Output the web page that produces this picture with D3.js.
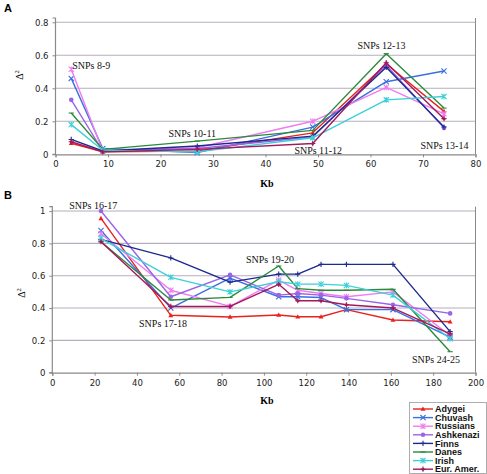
<!DOCTYPE html>
<html><head><meta charset="utf-8">
<script src="https://cdn.jsdelivr.net/npm/d3@7/dist/d3.min.js"></script>
<style>body{margin:0;background:#fff}svg{display:block}</style>
</head><body>
<script>
const populations = ["Adygei","Chuvash","Russians","Ashkenazi","Finns","Danes","Irish","Eur. Amer."];
const colors = ["#E8231E","#3A6FE0","#F07CF0","#9A63E8","#1C2A8C","#2A8A3A","#3CD0D8","#A3195B"];
const markers = ["triangle","x","asterisk","circle","plus","dash","asterisk","plusdot"];

const kbA = [3, 9, 27, 49, 63, 74];
const valuesA = [
  [0.067, 0.015, 0.02, 0.13, 0.547, 0.26],
  [0.46, 0.035, 0.01, 0.165, 0.44, 0.505],
  [0.515, 0.02, 0.04, 0.2, 0.405, 0.245],
  [0.33, 0.02, 0.035, 0.105, 0.54, 0.16],
  [0.09, 0.02, 0.05, 0.11, 0.527, 0.165],
  [0.25, 0.03, 0.08, 0.145, 0.61, 0.28],
  [0.18, 0.025, 0.015, 0.1, 0.33, 0.35],
  [0.076, 0.015, 0.03, 0.065, 0.555, 0.216]
];
const kbB = [23, 56, 84, 107, 116, 127, 139, 161, 188];
const valuesB = [
  [0.955, 0.355, 0.345, 0.357, 0.346, 0.346, 0.39, 0.326, 0.315],
  [0.88, 0.40, 0.585, 0.47, 0.47, 0.465, 0.39, 0.39, 0.22],
  [0.86, 0.51, 0.41, 0.573, 0.51, 0.49, 0.47, 0.50, 0.23],
  [1.0, 0.47, 0.605, 0.48, 0.49, 0.48, 0.46, 0.42, 0.367],
  [0.825, 0.71, 0.56, 0.61, 0.61, 0.67, 0.67, 0.67, 0.254],
  [0.81, 0.45, 0.466, 0.66, 0.52, 0.51, 0.51, 0.516, 0.13],
  [0.83, 0.59, 0.50, 0.563, 0.548, 0.548, 0.54, 0.48, 0.21],
  [0.81, 0.41, 0.41, 0.547, 0.445, 0.445, 0.42, 0.40, 0.24]
];
const xTicksA = [0,10,20,30,40,50,60,70,80];
const yTicksA = [0,0.2,0.4,0.6,0.8];
const xTicksB = [0,20,40,60,80,100,120,140,160,180,200];
const yTicksB = [0,0.2,0.4,0.6,0.8,1];
const labelsA = [
  {t:"SNPs 8-9", kb:3, v:0.515, dx:1, dy:0},
  {t:"SNPs 10-11", kb:21.5, v:0.05, dx:0, dy:-9},
  {t:"SNPs 11-12", kb:45.5, v:0.0, dx:0, dy:0},
  {t:"SNPs 12-13", kb:57.5, v:0.61, dx:0, dy:-5},
  {t:"SNPs 13-14", kb:69.5, v:0.03, dx:0, dy:0}
];
const labelsB = [
  {t:"SNPs 16-17", kb:8, v:1.0, dx:0, dy:-2},
  {t:"SNPs 17-18", kb:41, v:0.28, dx:0, dy:0},
  {t:"SNPs 19-20", kb:91.5, v:0.68, dx:0, dy:0},
  {t:"SNPs 24-25", kb:170, v:0.06, dx:0, dy:0}
];

const W = 487, H = 474;
const svg = d3.select("body").append("svg").attr("width", W).attr("height", H);
svg.append("rect").attr("width", W).attr("height", H).attr("fill", "#fff");

const gridColor = "#B5AEBD";
const axisColor = "#8a8a8a";
const tickFont = "DejaVu Sans, Verdana, sans-serif";
const serif = "Liberation Serif, Times New Roman, serif";

function markerPath(type, s) {
  switch (type) {
    case "triangle": return `M0,${-s}L${s*0.95},${s*0.7}L${-s*0.95},${s*0.7}Z`;
    case "x": return `M${-s},${-s}L${s},${s}M${-s},${s}L${s},${-s}`;
    case "asterisk": return `M${-s},${-s}L${s},${s}M${-s},${s}L${s},${-s}M0,${-s*1.1}L0,${s*1.1}`;
    case "plus": return `M0,${-s}L0,${s}M${-s},0L${s},0`;
    case "plusdot": return `M0,${-s}L0,${s}M${-s},0L${s},0`;
    case "dash": return `M${-s},0L${s},0`;
  }
  return "";
}

function panel(cfg) {
  const x = d3.scaleLinear().domain(cfg.xDomain).range([cfg.left, cfg.right]);
  const y = d3.scaleLinear().domain([0, cfg.yMax]).range([cfg.bottom, cfg.top]);
  const g = svg.append("g");

  g.selectAll(".grid").data(cfg.yTicks.filter(d => d > 0)).enter().append("line")
    .attr("x1", cfg.left).attr("x2", cfg.right)
    .attr("y1", d => y(d)).attr("y2", d => y(d))
    .attr("stroke", gridColor).attr("stroke-width", 1.1);

  g.append("line").attr("x1", cfg.right).attr("x2", cfg.right)
    .attr("y1", y(cfg.yMax)).attr("y2", cfg.bottom)
    .attr("stroke", axisColor).attr("stroke-width", 1);

  const xAxis = d3.axisBottom(x).tickValues(cfg.xTicks).tickSize(3).tickPadding(4).tickFormat(d3.format("d"));
  const yAxis = d3.axisLeft(y).tickValues(cfg.yTicks).tickSize(3).tickPadding(4).tickFormat(d => d === 0 ? "0" : (d === 1 ? "1" : d3.format(".1f")(d)));
  const gx = g.append("g").attr("transform", `translate(0,${cfg.bottom})`).call(xAxis);
  const gy = g.append("g").attr("transform", `translate(${cfg.left},0)`).call(yAxis);
  [gx, gy].forEach(a => {
    a.select(".domain").attr("stroke", axisColor).attr("stroke-width", 1.2);
    a.selectAll(".tick line").attr("stroke", axisColor);
    a.selectAll("text").attr("font-family", tickFont).attr("font-size", 8.5).attr("fill", "#222");
  });
  gy.select(".domain").attr("d", `M-3,${y(cfg.yMax)}H0V${cfg.bottom}H-3`);

  const line = d3.line().x(d => x(d[0])).y(d => y(d[1]));
  cfg.values.forEach((vals, i) => {
    const pts = cfg.kb.map((k, j) => [k, vals[j]]);
    const sg = g.append("g");
    sg.append("path").datum(pts).attr("d", line).attr("fill", "none")
      .attr("stroke", colors[i]).attr("stroke-width", 1.4).attr("stroke-linejoin", "round");
    pts.forEach(p => {
      const m = markers[i];
      const cx = x(p[0]), cy = y(p[1]);
      if (m === "circle") {
        sg.append("circle").attr("cx", cx).attr("cy", cy).attr("r", 2.3).attr("fill", colors[i]);
      } else if (m === "triangle") {
        sg.append("path").attr("d", markerPath(m, 2.6)).attr("transform", `translate(${cx},${cy})`).attr("fill", colors[i]);
      } else {
        sg.append("path").attr("d", markerPath(m, 2.6)).attr("transform", `translate(${cx},${cy})`)
          .attr("fill", "none").attr("stroke", colors[i]).attr("stroke-width", 1.1);
        if (m === "plusdot") sg.append("circle").attr("cx", cx).attr("cy", cy).attr("r", 1.5).attr("fill", colors[i]);
      }
    });
  });

  cfg.labels.forEach(l => {
    g.append("text").attr("x", x(l.kb) + l.dx).attr("y", y(l.v) + l.dy)
      .attr("font-family", serif).attr("font-size", 10).attr("fill", "#111").text(l.t);
  });

  svg.append("text").attr("x", 4).attr("y", cfg.letterY).attr("font-family", "Liberation Sans, Arial, sans-serif")
    .attr("font-weight", "bold").attr("font-size", 11).text(cfg.letter);

  const yl = svg.append("text").attr("transform", `translate(${cfg.ylx},${cfg.yly}) rotate(-90)`)
    .attr("text-anchor", "middle").attr("font-family", serif).attr("font-size", 10);
  yl.append("tspan").text("Δ");
  yl.append("tspan").attr("font-size", 6.5).attr("dy", -4).text("2");

  svg.append("text").attr("x", cfg.kbx).attr("y", cfg.kby).attr("font-family", serif)
    .attr("font-weight", "bold").attr("font-size", 10).attr("text-anchor", "middle").text("Kb");
}

panel({
  letter: "A", letterY: 12,
  xDomain: [0, 80], yMax: 0.826, left: 55.5, right: 475.5, top: 18, bottom: 154.3,
  xTicks: xTicksA, yTicks: yTicksA, kb: kbA, values: valuesA, labels: labelsA,
  ylx: 23, yly: 75, kbx: 267, kby: 187
});
panel({
  letter: "B", letterY: 199,
  xDomain: [0, 200], yMax: 1.027, left: 52.3, right: 475.5, top: 206.7, bottom: 372.7,
  xTicks: xTicksB, yTicks: yTicksB, kb: kbB, values: valuesB, labels: labelsB,
  ylx: 25, yly: 293, kbx: 267, kby: 404
});

const leg = svg.append("g");
leg.append("rect").attr("x", 409.5).attr("y", 402.5).attr("width", 77).attr("height", 71)
  .attr("fill", "#fff").attr("stroke", "#999").attr("stroke-width", 0.8);
populations.forEach((p, i) => {
  const yy = 409 + i * 8.6;
  leg.append("line").attr("x1", 413).attr("x2", 433).attr("y1", yy).attr("y2", yy)
    .attr("stroke", colors[i]).attr("stroke-width", 1.4);
  const m = markers[i];
  if (m === "circle") leg.append("circle").attr("cx", 423).attr("cy", yy).attr("r", 2.2).attr("fill", colors[i]);
  else if (m === "triangle") leg.append("path").attr("d", markerPath(m, 2.6)).attr("transform", `translate(423,${yy})`).attr("fill", colors[i]);
  else {
    leg.append("path").attr("d", markerPath(m, 2.6)).attr("transform", `translate(423,${yy})`)
      .attr("fill", "none").attr("stroke", colors[i]).attr("stroke-width", 1.1);
    if (m === "plusdot") leg.append("circle").attr("cx", 423).attr("cy", yy).attr("r", 1.5).attr("fill", colors[i]);
  }
  leg.append("text").attr("x", 435).attr("y", yy + 3.2).attr("font-family", "Liberation Sans, Arial, sans-serif")
    .attr("font-weight", "bold").attr("font-size", 9).attr("fill", "#111").text(p);
});
</script>
</body></html>
